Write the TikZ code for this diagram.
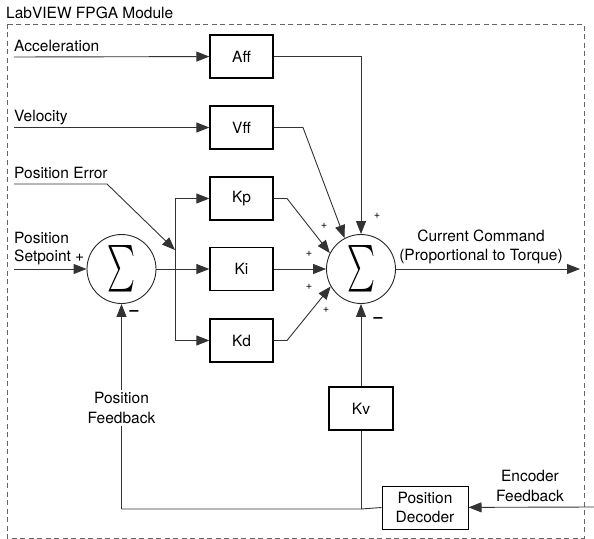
\documentclass[tikz,border=0pt]{standalone}
\usepackage{fontspec}
\setmainfont{TeX Gyre Heros}
\usepackage{graphicx}
\usetikzlibrary{arrows.meta,calc,positioning}
\tikzset{
	block/.style={draw=black,line width=1.3bp,fill=white,minimum width=63bp,minimum height=43bp,inner sep=0,align=center},
	sumnode/.style={circle,draw=black!85,line width=0.9bp,fill=white,minimum size=69bp,inner sep=0},
	edge/.style={color=black!80,line width=0.9bp},
	diredge/.style={-{Triangle[width=10bp,length=13bp]},color=black!80,line width=0.9bp},
	plussign/.style={font=\fontsize{11bp}{11bp}\selectfont,inner sep=0},
	negsign/.style={font=\bfseries\fontsize{16bp}{16bp}\selectfont,inner sep=0},
	lbl/.style={inner sep=0,align=center},
	frame/.style={color=black!60,line width=0.9bp,dash pattern=on 5bp off 3.5bp}
}

\begin{document}
\begin{tikzpicture}[x=1bp,y=-1bp,font=\fontsize{15.5bp}{19.5bp}\selectfont]
		% Variables for positions
		\def\bx{241.5} % x of the gain blocks
		\def\jx{175} % x of the branch line
		\def\sy{269} % y of the sums
		\useasboundingbox (0,0) rectangle (594,539);
		
		% frame
		\draw[frame] (7,24) rectangle (584,538);
		\node[lbl,anchor=base west] (title) at (6,19) {LabVIEW FPGA Module};
		
		% sums
		\node[sumnode] (S1) at (121.5,\sy) {\resizebox{28bp}{40bp}{$\sum$}};
		\node[sumnode] (S2) at (361,\sy) {\resizebox{28bp}{40bp}{$\sum$}};
		
		% gain blocks
		\node[block] (Aff) at (\bx,56.5) {Aff};
		\node[block] (Vff) at (\bx,127.5) {Vff};
		\node[block] (Kp) at (\bx,198.5) {Kp};
		\node[block] (Ki) at (\bx,\sy) {Ki};
		\node[block] (Kd) at (\bx,340.5) {Kd};
		\node[block,minimum width=64bp] (Kv) at (361,408.5) {Kv};
		\node[block,minimum width=86bp,line width=1bp] (PD) at (425,507.5) {Position\\Decoder};
		
		% inputs
		\coordinate (acc) at (14,57);
		\coordinate (vel) at (14,127.5);
		\coordinate (perr) at (14,184);
		\coordinate (perr2) at (107,184);
		\coordinate (pset) at (14,\sy);
		\coordinate (enc) at (594,507);
		\node[lbl,anchor=base west] at (14,52) {Acceleration};
		\node[lbl,anchor=base west] at (14,122) {Velocity};
		\node[lbl,anchor=base west] at (14,179) {Position Error};
		\node[lbl,anchor=base west] at (14,243) {Position};
		\node[lbl,anchor=base west] at (14,261) {Setpoint +};
		\node[lbl] at (530,486) {Encoder\\Feedback};
		
		\draw[diredge] (acc) -- (Aff);
		\draw[diredge] (vel) -- (Vff);
		\draw[diredge] (pset) -- (S1);
		\draw[diredge] (enc) -- (PD);
		
		% branch to the PID gains
		\coordinate (jtop) at (\jx,198.5);
		\coordinate (jmid) at (\jx,\sy);
		\coordinate (jbot) at (\jx,340.5);
		\coordinate (jerr) at (\jx,250);
		\draw[edge] (S1) -- (jmid);
		\draw[edge] (jtop) -- (jbot);
		\draw[diredge] (jtop) -- (Kp);
		\draw[diredge] (jmid) -- (Ki);
		\draw[diredge] (jbot) -- (Kd);
		\draw[diredge] (perr) -- (perr2) -- (jerr);
		
		% into the second sum
		\draw[diredge] (Aff.east) -| (S2.north);
		\draw[diredge] (Vff.east) -- (303,127.5) -- (S2.118);
		\draw[diredge] (Kp.east) -- (287,198.5) -- (S2.153);
		\draw[diredge] (Ki) -- (S2);
		\draw[diredge] (Kd.east) -- (287,340.5) -- (S2.210);
		
		% output
		\coordinate (out) at (580,\sy);
		\draw[diredge] (S2) -- (out);
		\node[lbl] at (481,247) {Current Command\\(Proportional to Torque)};
		
		% feedback
		\coordinate (fbk) at (361,509);
		\coordinate (fbp) at (121.5,509);
		\draw[edge] (PD.west) -- (fbk) -- (fbp);
		\draw[diredge] (fbp) -- (S1);
		\draw[edge] (fbk) -- (Kv);
		\draw[diredge] (Kv) -- (S2);
		\node[lbl,fill=white,inner sep=2bp] at (121.5,408) {Position\\Feedback};
		
		% signs
		\node[plussign] at (324,226) {+};
		\node[plussign] at (377,216) {+};
		\node[plussign] at (309,254) {+};
		\node[plussign] at (309,287) {+};
		\node[plussign] at (326,310) {+};
		\node[negsign] at (134,313) {--};
		\node[negsign] at (378,320) {--};
		
	\end{tikzpicture}
\end{document}
